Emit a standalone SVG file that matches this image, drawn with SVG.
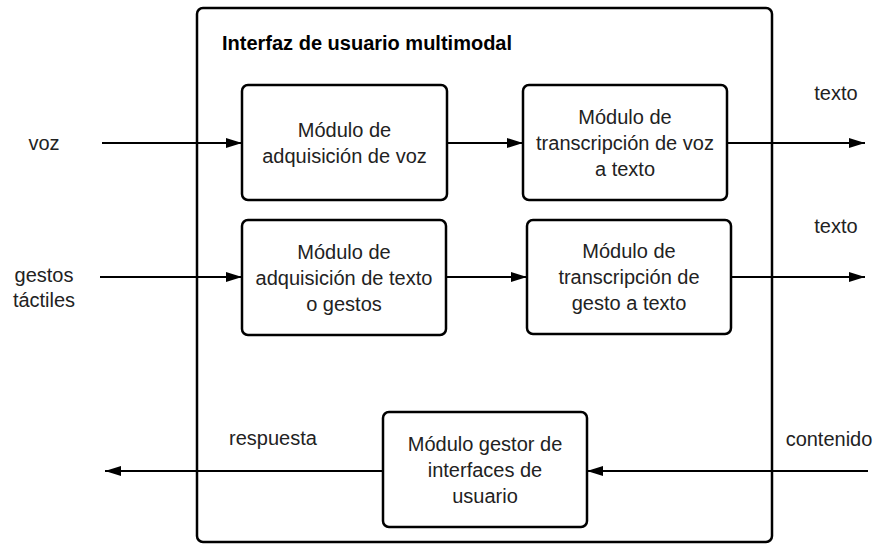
<svg xmlns="http://www.w3.org/2000/svg" width="877" height="544" viewBox="0 0 877 544">
<defs>
<marker id="ah" markerUnits="userSpaceOnUse" markerWidth="16" markerHeight="12" refX="16" refY="6" orient="auto"><path d="M0,1 L16,6 L0,11 z" fill="#000"/></marker>
<style>
.frame{fill:#fff;stroke:#000;stroke-width:2.5}
.box{fill:#fff;stroke:#000;stroke-width:2.5}
.t{font-family:"Liberation Sans",Arial,sans-serif;font-size:20px;fill:#222;text-anchor:middle;dominant-baseline:central}
.title{font-family:"Liberation Sans",Arial,sans-serif;font-size:20px;font-weight:bold;fill:#000}
.c{stroke:#000;stroke-width:2;fill:none;marker-end:url(#ah)}
</style>
</defs>
<rect width="877" height="544" fill="#fff"/>
<g id="frame">
<rect class="frame" x="197" y="8" width="575" height="534" rx="6"/>
<text class="title" x="222" y="50">Interfaz de usuario multimodal</text>
</g>
<g id="connectors">
<line class="c" x1="102" y1="143" x2="242" y2="143"/>
<line class="c" x1="447" y1="143" x2="523" y2="143"/>
<line class="c" x1="727" y1="143" x2="865" y2="143"/>
<line class="c" x1="100" y1="277" x2="242" y2="277"/>
<line class="c" x1="446" y1="277" x2="527" y2="277"/>
<line class="c" x1="731" y1="277" x2="865" y2="277"/>
<line class="c" x1="868" y1="471" x2="587" y2="471"/>
<line class="c" x1="383" y1="471" x2="105" y2="471"/>
</g>
<g id="labels">
<text class="t" x="44" y="143">voz</text>
<text class="t" x="44" y="275">gestos</text>
<text class="t" x="44" y="300">táctiles</text>
<text class="t" x="836" y="93">texto</text>
<text class="t" x="836" y="226">texto</text>
<text class="t" x="273" y="438">respuesta</text>
<text class="t" x="829" y="439">contenido</text>
</g>
<g id="n1">
<rect class="box" x="242" y="85" width="205" height="115" rx="6"/>
<text class="t" x="344.5" y="129.5">Módulo de</text>
<text class="t" x="344.5" y="155.5">adquisición de voz</text>
</g>
<g id="n2">
<rect class="box" x="523" y="85" width="204" height="115" rx="6"/>
<text class="t" x="625" y="116.5">Módulo de</text>
<text class="t" x="625" y="142.5">transcripción de voz</text>
<text class="t" x="625" y="168.5">a texto</text>
</g>
<g id="n3">
<rect class="box" x="242" y="220" width="204" height="115" rx="6"/>
<text class="t" x="344" y="251.5">Módulo de</text>
<text class="t" x="344" y="277.5">adquisición de texto</text>
<text class="t" x="344" y="303.5">o gestos</text>
</g>
<g id="n4">
<rect class="box" x="527" y="220" width="204" height="114" rx="6"/>
<text class="t" x="629" y="251">Módulo de</text>
<text class="t" x="629" y="277">transcripción de</text>
<text class="t" x="629" y="303">gesto a texto</text>
</g>
<g id="n5">
<rect class="box" x="383" y="412" width="204" height="115" rx="6"/>
<text class="t" x="485" y="443.5">Módulo gestor de</text>
<text class="t" x="485" y="469.5">interfaces de</text>
<text class="t" x="485" y="495.5">usuario</text>
</g>
</svg>
